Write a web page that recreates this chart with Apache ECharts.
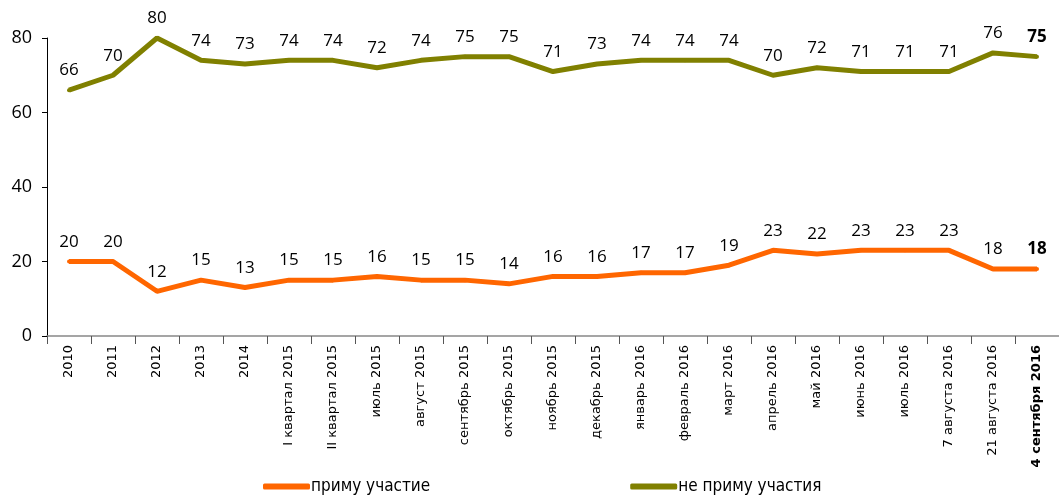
<!DOCTYPE html>
<html>
<head>
<meta charset="utf-8">
<script src="https://cdn.jsdelivr.net/npm/echarts@6/dist/echarts.min.js"></script>
<style>
  html, body { margin: 0; padding: 0; background: #fff; }
  #chart { width: 1059px; height: 504px; }
</style>
</head>
<body>
<div id="chart"></div>
<script>
// периоды опроса
const categories = ['2010', '2011', '2012', '2013', '2014', 'I квартал 2015', 'II квартал 2015',
  'июль 2015', 'август 2015', 'сентябрь 2015', 'октябрь 2015', 'ноябрь 2015', 'декабрь 2015',
  'январь 2016', 'февраль 2016', 'март 2016', 'апрель 2016', 'май 2016', 'июнь 2016',
  'июль 2016', '7 августа 2016', '21 августа 2016', '4 сентября 2016'];
const willTake = [20, 20, 12, 15, 13, 15, 15, 16, 15, 15, 14, 16, 16, 17, 17, 19, 23, 22, 23, 23, 23, 18, 18];
const willNotTake = [66, 70, 80, 74, 73, 74, 74, 72, 74, 75, 75, 71, 73, 74, 74, 74, 70, 72, 71, 71, 71, 76, 75];
const yTicks = [0, 20, 40, 60, 80];

const lastIdx = categories.length - 1;
const font = 'Open Sans';

// последняя точка подписывается жирным
function withBoldLast(arr) {
    return arr.map((v, i) => i === lastIdx
        ? { value: v, label: { fontWeight: 'bold' } }
        : v);
}

function lineSeries(name, data, color) {
    return {
        name: name,
        type: 'line',
        data: withBoldLast(data),
        color: color,
        lineStyle: { width: 5, color: color },
        symbol: 'circle',
        symbolSize: 4,
        showSymbol: true,
        itemStyle: { color: color },
        label: { show: true, position: 'top', distance: 9, fontFamily: font, fontSize: 17, color: '#000' },
        labelLayout: { hideOverlap: false }
    };
}

const chart = echarts.init(document.getElementById('chart'));
chart.setOption({
    animation: false,
    grid: { left: 47, right: 0, top: 38, bottom: 168 },
    legend: {
        bottom: 4,
        left: 258,
        itemGap: 200,
        itemWidth: 47,
        itemHeight: 6,
        icon: 'roundRect',
        textStyle: { fontFamily: 'DejaVu Sans Condensed', fontSize: 17, color: '#000', padding: [0, 0, 0, -4] },
        data: ['приму участие', 'не приму участия']
    },
    xAxis: {
        type: 'category',
        data: categories,
        boundaryGap: true,
        axisLine: { lineStyle: { color: '#888', width: 1.5 } },
        axisTick: { show: true, length: 8, lineStyle: { color: '#555' } },
        axisLabel: {
            rotate: 90,
            interval: 0,
            margin: 9,
            fontFamily: 'DejaVu Sans',
            fontSize: 13,
            color: '#000',
            formatter: (v, i) => i === lastIdx ? '{b|' + v + '}' : v,
            rich: { b: { fontWeight: 'bold', fontFamily: 'DejaVu Sans', fontSize: 13, color: '#000' } }
        }
    },
    yAxis: {
        type: 'value',
        min: yTicks[0],
        max: yTicks[yTicks.length - 1],
        interval: 20,
        splitLine: { show: false },
        axisLine: { show: true, lineStyle: { color: '#000' } },
        axisTick: { show: true, length: 5, lineStyle: { color: '#000' } },
        axisLabel: { fontFamily: font, fontSize: 18, color: '#000', margin: 15 }
    },
    series: [
        lineSeries('приму участие', willTake, '#ff6600'),
        lineSeries('не приму участия', willNotTake, '#808000')
    ]
});
</script>
</body>
</html>
